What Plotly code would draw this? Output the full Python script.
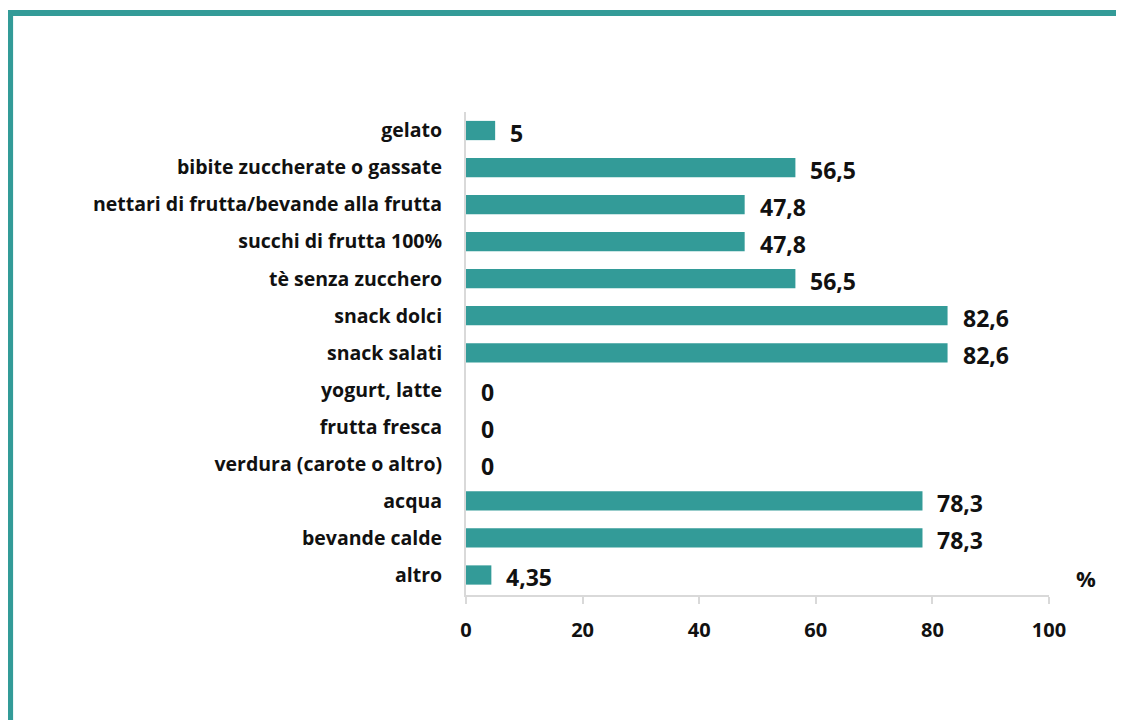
import plotly.graph_objects as go

TEAL = "#339b98"

categories = [
    "gelato",
    "bibite zuccherate o gassate",
    "nettari di frutta/bevande alla frutta",
    "succhi di frutta 100%",
    "tè senza zucchero",
    "snack dolci",
    "snack salati",
    "yogurt, latte",
    "frutta fresca",
    "verdura (carote o altro)",
    "acqua",
    "bevande calde",
    "altro",
]
values = [5, 56.5, 47.8, 47.8, 56.5, 82.6, 82.6, 0, 0, 0, 78.3, 78.3, 4.35]
value_labels = ["5", "56,5", "47,8", "47,8", "56,5", "82,6", "82,6",
                "0", "0", "0", "78,3", "78,3", "4,35"]
x_ticks = [0, 20, 40, 60, 80, 100]

FONT = "'Open Sans', sans-serif"
INK = "#111111"

fig = go.Figure(go.Bar(
    x=values,
    y=categories,
    orientation="h",
    width=0.52,
    marker=dict(color=TEAL, line=dict(width=0)),
    hoverinfo="skip",
))

# value labels, a little right of each bar end
for cat, v, lab in zip(categories, values, value_labels):
    fig.add_annotation(
        x=v, y=cat, text=f"<b>{lab}</b>",
        xanchor="left", yanchor="middle",
        xshift=13, yshift=-2,
        showarrow=False,
        font=dict(family=FONT, size=23, color=INK),
    )

fig.add_annotation(
    x=1.063, y=0.035, xref="paper", yref="paper",
    text="<b>%</b>", showarrow=False,
    xanchor="center", yanchor="middle",
    font=dict(family=FONT, size=22, color=INK),
)

# frame on the left and top
border = dict(color=TEAL, width=6)
fig.add_shape(type="line", xref="paper", yref="paper",
              x0=-0.782, x1=-0.782, y0=-0.3, y1=1.211, line=border)
fig.add_shape(type="line", xref="paper", yref="paper",
              x0=-0.787, x1=1.2, y0=1.205, y1=1.205, line=border)

fig.update_layout(
    width=1132, height=720,
    paper_bgcolor="white", plot_bgcolor="white",
    margin=dict(l=458, r=91, t=104, b=133),
    showlegend=False,
    xaxis=dict(
        range=[0, 100],
        tickvals=x_ticks,
        ticktext=[f"<b>{t}</b>" for t in x_ticks],
        showgrid=False, zeroline=False,
        showline=True, linecolor="#d9d9d9", linewidth=2,
        ticks="outside", ticklen=7, tickcolor="#d9d9d9", tickwidth=2,
        ticklabelstandoff=9,
        tickfont=dict(family=FONT, size=20, color=INK),
        fixedrange=True,
    ),
    yaxis=dict(
        categoryorder="array",
        categoryarray=categories[::-1],
        tickvals=categories,
        ticktext=[f"<b>{c}</b>" for c in categories],
        showgrid=False, zeroline=False,
        showline=True, linecolor="#d9d9d9", linewidth=2,
        ticks="", ticklabelstandoff=18,
        tickfont=dict(family=FONT, size=19.5, color=INK),
        fixedrange=True,
    ),
)

fig.write_html("out.html")
